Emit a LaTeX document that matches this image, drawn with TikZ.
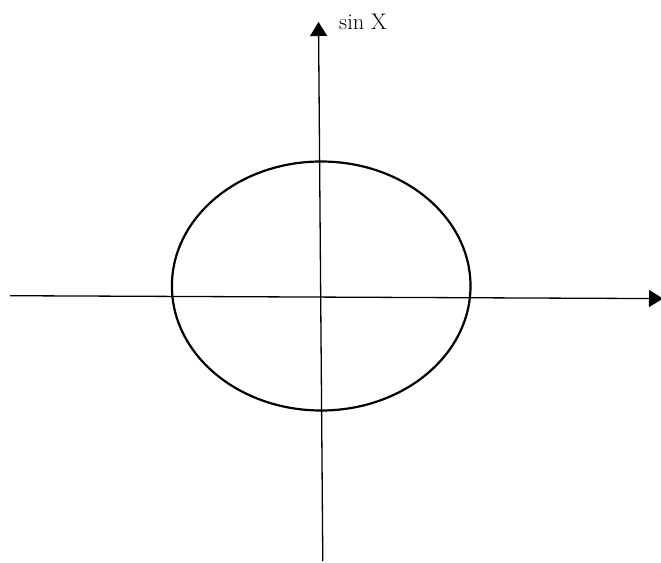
\documentclass[tikz,border=0pt]{standalone}
\usepackage{fontspec}
\usepackage{tikz}
\usetikzlibrary{arrows.meta,positioning}
\definecolor{AxisBlack}{HTML}{000000}

\tikzset{
  axisline/.style={AxisBlack,line width=1.3pt,-{Triangle[width=17pt,length=14pt]}},
  orbit/.style={AxisBlack,line width=2.2pt}
}

\begin{document}
\begin{tikzpicture}[x=1pt,y=-1pt]
        \useasboundingbox (0,0) rectangle (661,562);
        % axes
        \coordinate (xl) at (10,295.7);
        \coordinate (xr) at (663,298.6);
        \coordinate (yb) at (322.8,561);
        \coordinate (yt) at (318.5,22);
        \draw[axisline] (xl) -- (xr);
        \draw[axisline] (yb) -- (yt);
        % curve
        \coordinate (o) at (321.2,286);
        \draw[orbit] (o) ellipse[x radius=149.3,y radius=124.5];
        \node[anchor=base west,inner sep=0pt,font=\fontsize{22.5}{27}\selectfont]
          (lbl) at (339,29.3) {sin X};
      \end{tikzpicture}
\end{document}
